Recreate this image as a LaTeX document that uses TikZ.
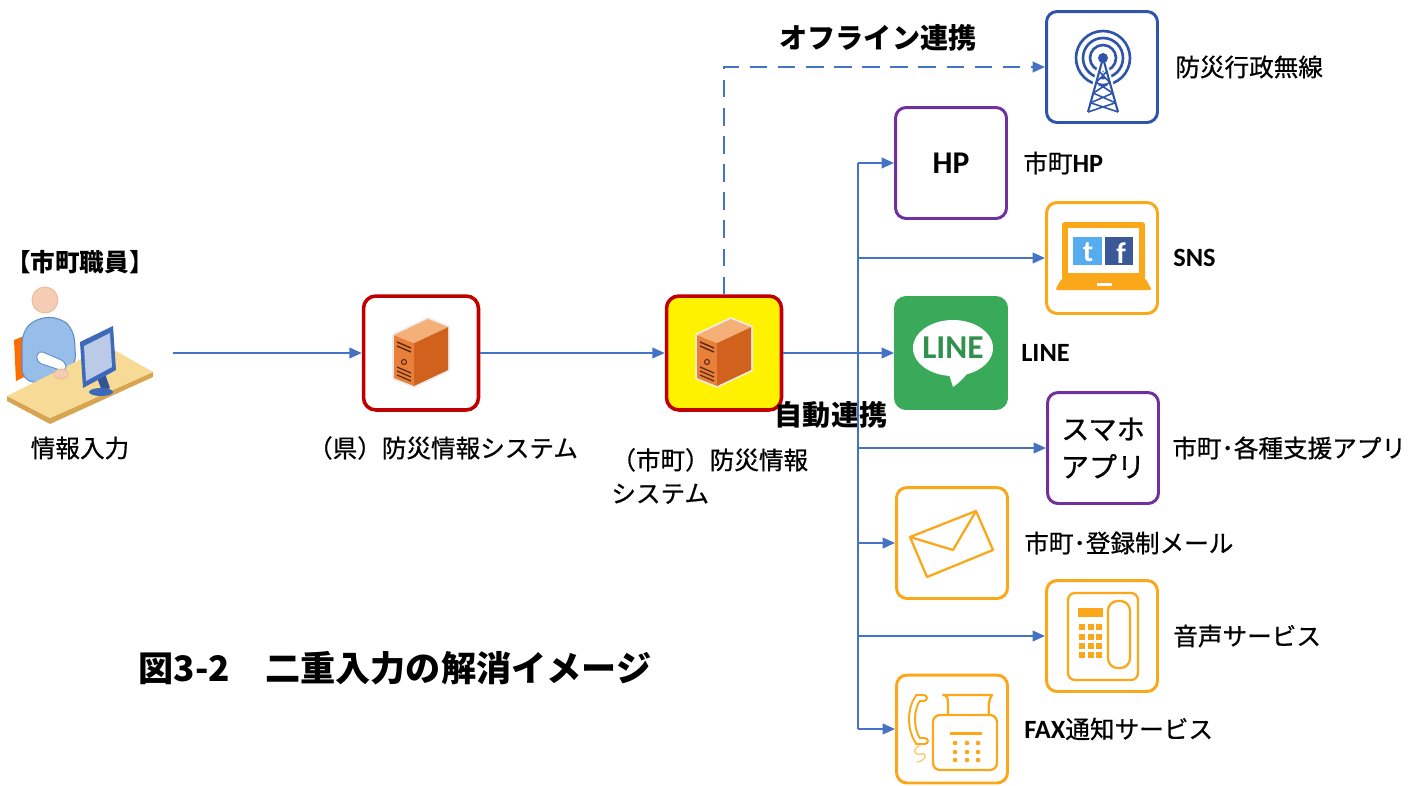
\documentclass[tikz,border=0pt]{standalone}
\usepackage{fontspec}
\setmainfont{Noto Sans CJK JP}
\newfontfamily\medfont{Noto Sans CJK JP}[FakeBold=0.7]
\newfontfamily\calibri{Carlito}
\usepackage{tikz}
\usetikzlibrary{arrows.meta,positioning}

\definecolor{flowblue}{RGB}{68,114,196}
\definecolor{sysred}{RGB}{192,0,0}
\definecolor{apppurple}{RGB}{112,48,160}
\definecolor{svcorange}{RGB}{250,168,25}
\definecolor{radioblue}{RGB}{47,85,170}
\definecolor{linegreen}{RGB}{57,170,90}
\definecolor{srvfront}{RGB}{232,128,58}
\definecolor{srvside}{RGB}{208,98,30}
\definecolor{srvtop}{RGB}{245,176,122}
\definecolor{srvdark}{RGB}{90,40,15}
\definecolor{twblue}{RGB}{85,172,238}
\definecolor{fbblue}{RGB}{59,89,152}
\definecolor{desktan}{RGB}{246,218,150}
\definecolor{deskedge}{RGB}{215,165,80}
\definecolor{shirt}{RGB}{150,190,232}
\definecolor{shirtdark}{RGB}{95,140,200}
\definecolor{skin}{RGB}{245,205,180}
\definecolor{screenblue}{RGB}{60,105,185}

\begin{document}
\begin{tikzpicture}[x=0.02cm,y=-0.02cm,
  txt/.style={inner sep=0pt,font=\medfont\fontsize{14pt}{17pt}\selectfont},
  heavy/.style={inner sep=0pt,font=\fontsize{16pt}{19pt}\selectfont\bfseries},
  sysbox/.style={rectangle,rounded corners=7pt,draw=sysred,line width=2pt,
                 minimum width=2.3cm,minimum height=2.28cm},
  iconbox/.style={rectangle,rounded corners=6pt,line width=1.7pt,
                  minimum width=2.22cm,minimum height=2.22cm},
  arr/.style={-{Triangle[length=7pt,width=6pt]},draw=flowblue,line width=1.1pt},
  trunk/.style={draw=flowblue,line width=1.1pt},
  orangeline/.style={draw=svcorange,line width=1.3pt}
]
  \useasboundingbox (0,0) rectangle (1413,785);

  % systems and channels
  \node[minimum width=3.4cm,minimum height=2.4cm] (staff) at (88,353) {};
  \node[sysbox,fill=white] (pref) at (421,353) {};
  \node[sysbox,fill=yellow] (city) at (724,353) {};
  \node[iconbox,draw=radioblue] (radio) at (1102,67) {};
  \node[iconbox,draw=apppurple,font=\calibri\bfseries\fontsize{18pt}{18pt}\selectfont] (hp) at (951,163) {HP};
  \node[iconbox,draw=svcorange] (sns) at (1102,258) {};
  \node[iconbox,draw=linegreen,fill=linegreen] (line) at (951,353) {};
  \node[iconbox,draw=apppurple,align=center,font=\medfont\fontsize{16pt}{21.5pt}\selectfont] (app) at (1103,448) {スマホ\\アプリ};
  \node[iconbox,draw=svcorange] (mail) at (952,543) {};
  \node[iconbox,draw=svcorange] (voice) at (1102,636) {};
  \node[iconbox,draw=svcorange,minimum height=2.16cm] (fax) at (952,729) {};

  % labels
  \node[txt,font=\fontsize{14pt}{17pt}\selectfont\bfseries] (stafftitle) at (80,262) {【市町職員】};
  \node[txt] (stafflabel) at (80,448) {情報入力};
  \node[txt] (preflabel) at (443,448) {（県）防災情報システム};
  \node[txt,align=left,anchor=west,font=\medfont\fontsize{14pt}{19pt}\selectfont] (citylabel) at (611,476) {（市町）防災情報\\システム};
  \node[txt,right=0.32cm of radio] (radiolabel) {防災行政無線};
  \node[txt,right=0.3cm of hp] (hplabel) {市町{\calibri\bfseries\fontsize{15pt}{17pt}\selectfont HP}};
  \node[txt,right=0.28cm of sns,font=\calibri\bfseries\fontsize{15pt}{17pt}\selectfont] (snslabel) {SNS};
  \node[txt,right=0.26cm of line,font=\calibri\bfseries\fontsize{15pt}{17pt}\selectfont] (linelabel) {LINE};
  \node[txt,right=0.24cm of app] (applabel) {市町･各種支援アプリ};
  \node[txt,right=0.3cm of mail] (maillabel) {市町･登録制メール};
  \node[txt,right=0.28cm of voice] (voicelabel) {音声サービス};
  \node[txt,right=0.3cm of fax] (faxlabel) {{\calibri\bfseries\fontsize{15pt}{17pt}\selectfont FAX}通知サービス};
  \node[heavy] (offline) at (878,38) {オフライン連携};
  \node[heavy] (auto) at (831,415) {自動連携};
  \node[inner sep=0pt,font=\fontsize{20pt}{24pt}\selectfont\bfseries] (caption) at (395,668) {図3-2　二重入力の解消イメージ};

  % connectors
  \draw[arr] (staff) -- (pref);
  \draw[arr] (pref) -- (city);
  \draw[arr,dash pattern=on 10pt off 6pt] (city.north) |- (radio.west);
  \coordinate (hub) at (858,353);
  \draw[trunk] (city.east) -- (hub);
  \draw[trunk] (hub |- hp.west) -- (hub |- fax.west);
  \foreach \t in {hp,sns,line,app,mail,voice,fax}
    \draw[arr] (hub |- \t.west) -- (\t.west);

  % staff at the desk
  \fill[orange!85!red] (14,340) -- (24,336) -- (26,376) -- (16,381) -- cycle;
  \fill[shirt,draw=shirtdark,line width=0.6pt,rounded corners=6pt]
    (22,380) -- (22,332) -- (36,318) -- (60,317) -- (74,330) -- (76,366) -- (45,384) -- cycle;
  \fill[skin,draw=skin!75!brown,line width=0.5pt] (45,300) circle (13);
  \fill[deskedge] (7,396) -- (50,418) -- (153,372) -- (153,377) -- (50,424) -- (7,401) -- cycle;
  \fill[desktan] (7,396) -- (107,346) -- (153,372) -- (50,418) -- cycle;
  \fill[white,draw=shirtdark,line width=0.5pt,rounded corners=3pt]
    (38,350) -- (66,362) -- (66,372) -- (36,362) -- cycle;
  \fill[skin,draw=skin!70!brown,line width=0.4pt] (61,374) ellipse [x radius=7,y radius=5];
  \fill[screenblue!80!black] (96,375) -- (104,371) -- (110,388) -- (102,391) -- cycle;
  \fill[screenblue] (101,392) ellipse [x radius=12,y radius=4];
  \fill[screenblue] (80,342) -- (113,326) -- (116,370) -- (83,388) -- cycle;
  \fill[screenblue!35!white] (84,346) -- (110,333) -- (112,367) -- (86,381) -- cycle;

  % server towers
  \foreach \s in {pref,city}{
    \begin{scope}[shift={(\s.center)}]
      \draw[white!85!gray,line width=2pt,line join=round]
        (-27,-18) -- (7,-34) -- (27,-26) -- (27,17) -- (-7,33) -- (-27,25) -- cycle;
      \fill[srvfront] (-27,-18) -- (-7,-10) -- (-7,33) -- (-27,25) -- cycle;
      \fill[srvside] (-7,-10) -- (27,-26) -- (27,17) -- (-7,33) -- cycle;
      \fill[srvtop] (-27,-18) -- (7,-34) -- (27,-26) -- (-7,-10) -- cycle;
      \draw[srvdark,line width=0.8pt] (-24,-11) -- (-10,-5) (-24,-7) -- (-10,-1);
      \draw[srvdark,line width=0.6pt] (-17,9) circle (2.5);
      \foreach \v in {14,18,22}
        \draw[srvdark,line width=0.7pt] (-24,\v) -- (-10,\v+6);
    \end{scope}
  }

  % radio mast
  \begin{scope}[shift={(radio.center)},radioblue]
    \foreach \r in {27,20,13}
      \draw[line width=1.5pt] (1,-9) circle (\r);
    \draw[white,line width=3.5pt] (1,-9) -- (-14,45) (1,-9) -- (16,45);
    \fill (1,-9) circle (5);
    \draw[line width=1.2pt] (1,-9) -- (-14,45) (1,-9) -- (16,45);
    \foreach \a/\b in {0.25/0.45,0.45/0.65,0.65/0.83,0.83/1}
      \draw[line width=0.9pt] ({1-15*\a},{-9+54*\a}) -- ({1+15*\b},{-9+54*\b})
                              ({1+15*\a},{-9+54*\a}) -- ({1-15*\b},{-9+54*\b});
  \end{scope}

  % laptop with sns logos
  \begin{scope}[shift={(sns.center)}]
    \fill[svcorange,rounded corners=1.5pt] (-40,-36) rectangle (43,22);
    \fill[white] (-34,-30) rectangle (37,15);
    \fill[svcorange,rounded corners=1.5pt] (-40,20) -- (43,20) -- (50,32) -- (-47,32) -- cycle;
    \fill[white] (-5,25) rectangle (10,28);
    \fill[twblue] (-29,-21) rectangle (0,7);
    \fill[fbblue] (3,-21) rectangle (31,7);
    \node[text=white,font=\calibri\bfseries\fontsize{17pt}{17pt}\selectfont] (twlogo) at (-14,-6) {t};
    \node[text=white,font=\calibri\bfseries\fontsize{17pt}{17pt}\selectfont] (fblogo) at (19,-5) {f};
  \end{scope}

  % line bubble
  \begin{scope}[shift={(line.center)}]
    \fill[white] (2,-5) ellipse [x radius=40,y radius=28];
    \fill[white] (-3,18) -- (2,34) .. controls (8,30) and (14,24) .. (18,18) -- cycle;
    \node[text=linegreen!85!black,font=\calibri\bfseries\fontsize{19pt}{19pt}\selectfont] (linetext) at (2,-5) {LINE};
  \end{scope}

  % envelope
  \begin{scope}[shift={(mail.center)},orangeline,line join=round]
    \draw (-42,-6) -- (24,-32) -- (41,7) -- (-25,34) -- cycle;
    \draw (-42,-6) -- (1,7) -- (24,-32);
  \end{scope}

  % telephone
  \begin{scope}[shift={(voice.center)}]
    \draw[orangeline,rounded corners=4pt] (-34,-43) rectangle (36,44);
    \draw[orangeline,rounded corners=5.5pt] (6,-35) rectangle (28,32);
    \fill[svcorange] (-24,-28) rectangle (1,-19);
    \foreach \kx in {-20,-11,-3}
      \foreach \ky in {-9,1,10,19}
        \fill[svcorange] (\kx-3,\ky-3) rectangle (\kx+3,\ky+3);
  \end{scope}

  % fax machine
  \begin{scope}[shift={(fax.center)}]
    \draw[orangeline,fill=white,line join=round] (-4,-14) -- (-4,-26)
      .. controls (-4,-32) and (-6,-34) .. (-9,-34) -- (40,-34)
      .. controls (37,-30) and (36,-24) .. (37,-14);
    \draw[orangeline,rounded corners=4pt] (-19,-14) rectangle (45,41);
    \fill[svcorange] (-2,3) rectangle (30,6);
    \foreach \dx in {3,15,26}
      \foreach \dy in {14,23,31}
        \fill[svcorange] (\dx,\dy) circle (2.3);
    \draw[svcorange,line width=4.5pt,line cap=round]
      (-28,-31) -- (-34,-31) .. controls (-42,-20) and (-42,0) .. (-34,12) -- (-27,12);
    \draw[white,line width=2.2pt,line cap=round]
      (-28,-31) -- (-34,-31) .. controls (-42,-20) and (-42,0) .. (-34,12) -- (-27,12);
    \draw[svcorange!60,line width=0.8pt]
      (-31,16) .. controls (-40,19) and (-39,27) .. (-31,25)
      .. controls (-24,23) and (-26,32) .. (-35,33);
  \end{scope}
\end{tikzpicture}
\end{document}
